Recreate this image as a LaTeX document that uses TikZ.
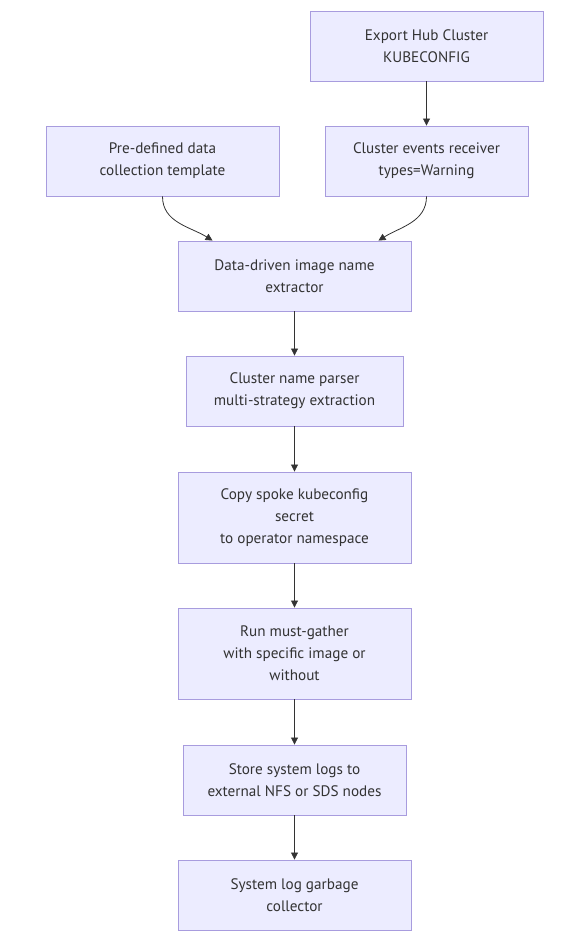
\documentclass[tikz,border=0pt]{standalone}
\usepackage{fontspec}
\setmainfont{PT Sans}
\usetikzlibrary{arrows.meta}
\definecolor{boite}{HTML}{ECECFF}
\definecolor{bord}{HTML}{A89CDE}
\definecolor{trait}{HTML}{333333}
\tikzset{
    etape/.style={draw=bord, fill=boite, line width=0.9pt, align=center, inner sep=0pt,
        text=trait, font={\fontsize{15.2}{22}\selectfont}},
    fleche/.style={draw=trait, line width=0.8pt, -{Triangle[length=7pt,width=7pt]}}
}

\begin{document}
\begin{tikzpicture}[x=1pt, y=-1pt]
    \useasboundingbox (0,0) rectangle (580,943);

    % Entrées
    \node[etape, minimum width=233pt, minimum height=70pt] (H) at (426.5,46) {Export Hub Cluster\\KUBECONFIG};
    \node[etape, minimum width=233pt, minimum height=70pt] (T) at (162.5,161) {Pre-defined data\\collection template};
    \node[etape, minimum width=203pt, minimum height=70pt] (R) at (426.5,161) {Cluster events receiver\\types=Warning};
    \draw [fleche] (H) -- (R);

    % Extraction
    \node[etape, minimum width=233pt, minimum height=70pt] (X) at (294.5,276) {Data-driven image name\\extractor};
    \coordinate (Xl) at ([xshift=-82pt]X.north);
    \coordinate (Xr) at ([xshift=84pt]X.north);
    \draw [fleche] (T.south) to [out=-90, in=148] (Xl);
    \draw [fleche] (R.south) to [out=-90, in=32] (Xr);

    \node[etape, minimum width=217pt, minimum height=70pt] (N) at (294.5,391) {Cluster name parser\\multi-strategy extraction};
    \draw [fleche] (X) -- (N);

    % Collecte
    \node[etape, minimum width=233pt, minimum height=91pt] (S) at (294.5,517.5) {Copy spoke kubeconfig\\secret\\to operator namespace};
    \draw [fleche] (N) -- (S);
    \node[etape, minimum width=233pt, minimum height=91pt] (M) at (294.5,653.5) {Run must-gather\\with specific image or\\without};
    \draw [fleche] (S) -- (M);

    % Stockage
    \node[etape, minimum width=223pt, minimum height=70pt] (L) at (294.5,780) {Store system logs to\\external NFS or SDS nodes};
    \draw [fleche] (M) -- (L);
    \node[etape, minimum width=233pt, minimum height=70pt] (G) at (294.5,895) {System log garbage\\collector};
    \draw [fleche] (L) -- (G);
\end{tikzpicture}
\end{document}
